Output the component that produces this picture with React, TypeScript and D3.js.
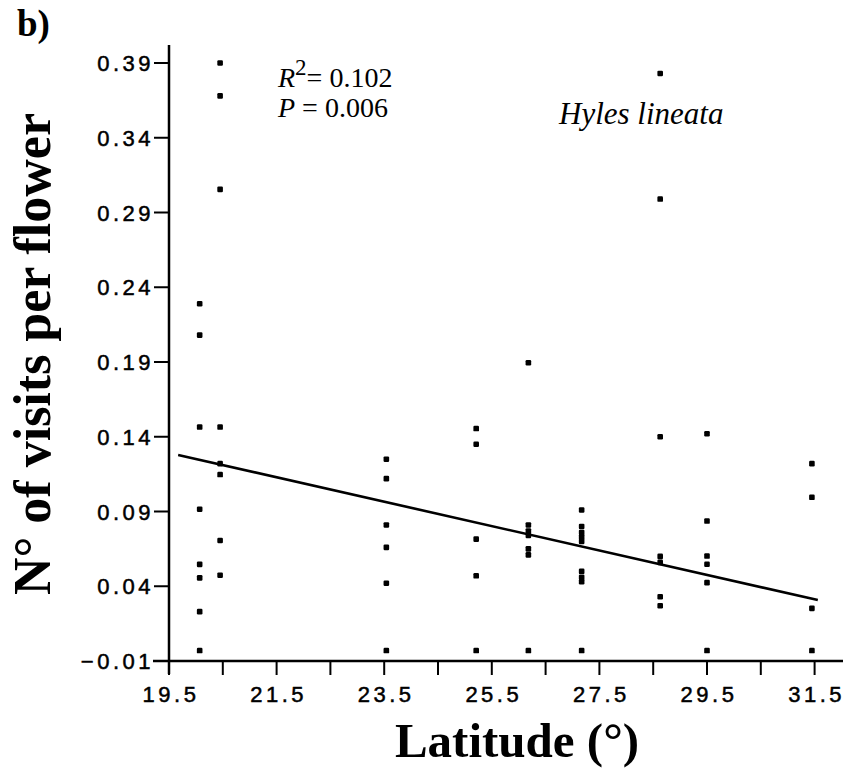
import React from "react";
import * as d3 from "d3";

const siteLatitude = [20.07, 20.45, 23.54, 25.21, 26.18, 27.17, 28.63, 29.5, 31.45];
const visitsSite1 = [0.229, 0.208, 0.1465, 0.0915, 0.0546, 0.0456, 0.023, -0.003];
const visitsSite2 = [0.39, 0.368, 0.3055, 0.1465, 0.122, 0.1147, 0.0706, 0.0474];
const visitsSite3 = [0.125, 0.112, 0.081, 0.066, 0.042, -0.003];
const visitsSite4 = [0.1455, 0.135, 0.0715, 0.047, -0.003];
const visitsSite5 = [0.1895, 0.081, 0.077, 0.074, 0.065, 0.061, -0.003];
const visitsSite6 = [0.091, 0.08, 0.076, 0.073, 0.07, 0.05, 0.046, 0.043, -0.003];
const visitsSite7 = [0.383, 0.299, 0.14, 0.06, 0.056, 0.033, 0.027];
const visitsSite8 = [0.142, 0.0836, 0.0602, 0.0547, 0.0424, -0.003];
const visitsSite9 = [0.122, 0.0995, 0.0252, -0.003];
const visitsBySite = [visitsSite1, visitsSite2, visitsSite3, visitsSite4, visitsSite5, visitsSite6, visitsSite7, visitsSite8, visitsSite9];

const fitLatitude = [19.67, 31.56];
const fitVisits = [0.1278, 0.0308];

const yTickValues = [-0.01, 0.04, 0.09, 0.14, 0.19, 0.24, 0.29, 0.34, 0.39];
const xMinorTicks = [19.5, 20.5, 21.5, 22.5, 23.5, 24.5, 25.5, 26.5, 27.5, 28.5, 29.5, 30.5, 31.5];
const xLabelTicks = [19.5, 21.5, 23.5, 25.5, 27.5, 29.5, 31.5];

export default function App() {
  const W = 845, H = 781;
  const x = d3.scaleLinear().domain([19.5, 31.5]).range([169, 814.6]);
  const y = d3.scaleLinear().domain([-0.01, 0.39]).range([661, 63]);
  const points = siteLatitude.flatMap((lat, i) => visitsBySite[i].map((v) => ({ lat, v })));
  const line = d3.line<number>().x((d, i) => x(fitLatitude[i])).y((d) => y(d));
  const tickFont = "'Liberation Sans', Arial, sans-serif";
  const serif = "'Liberation Serif', 'Times New Roman', serif";
  const axisX = x(19.5);
  const axisY = y(-0.01);
  return (
    <svg width={W} height={H} style={{ position: "absolute", left: 0, top: 0, background: "#fff" }}>
      <rect width={W} height={H} fill="#fff" />
      <text x={17} y={36} fontFamily={serif} fontWeight="bold" fontSize={37}>b)</text>
      {/* axes */}
      <line x1={axisX} x2={axisX} y1={45} y2={674} stroke="#000" strokeWidth={2.5} />
      <line x1={153} x2={843} y1={axisY} y2={axisY} stroke="#000" strokeWidth={2.5} />
      {yTickValues.map((t) => (
        <g key={"y" + t}>
          <line x1={axisX - 15} x2={axisX} y1={y(t)} y2={y(t)} stroke="#000" strokeWidth={2} />
          <text x={154} y={y(t) + 8} textAnchor="end" fontFamily={tickFont} fontSize={22} letterSpacing={3.5}
            stroke="#000" strokeWidth={0.5}>
            {d3.format(".2f")(t)}
          </text>
        </g>
      ))}
      {xMinorTicks.map((t) => (
        <line key={"xm" + t} x1={x(t)} x2={x(t)} y1={axisY} y2={axisY + 14} stroke="#000" strokeWidth={2} />
      ))}
      {xLabelTicks.map((t) => (
        <text key={"xl" + t} x={x(t) + 2} y={702} textAnchor="middle" fontFamily={tickFont} fontSize={22} letterSpacing={3.5}
          stroke="#000" strokeWidth={0.5}>
          {d3.format(".1f")(t)}
        </text>
      ))}
      {/* points */}
      {points.map((p, i) => (
        <rect key={i} x={x(p.lat) - 2.8} y={y(p.v) - 2.8} width={5.6} height={5.6} rx={1.2} fill="#000" />
      ))}
      {/* fit line */}
      <path d={line(fitVisits) || ""} fill="none" stroke="#000" strokeWidth={2.6} />
      {/* annotations */}
      <text x={278} y={87} fontFamily={serif} fontSize={28}>
        <tspan fontStyle="italic">R</tspan>
        <tspan fontSize={23} dy={-12}>2</tspan>
        <tspan dy={12}>= 0.102</tspan>
      </text>
      <text x={278} y={117} fontFamily={serif} fontSize={28}>
        <tspan fontStyle="italic">P</tspan> = 0.006
      </text>
      <text x={559} y={124} fontFamily={serif} fontStyle="italic" fontSize={31}>Hyles lineata</text>
      {/* axis titles */}
      <text x={517} y={757} textAnchor="middle" fontFamily={serif} fontWeight="bold" fontSize={49}>Latitude (°)</text>
      <text transform={`translate(50, 354) rotate(-90)`} textAnchor="middle" fontFamily={serif} fontWeight="bold" fontSize={52}>
        N° of visits per flower
      </text>
    </svg>
  );
}
